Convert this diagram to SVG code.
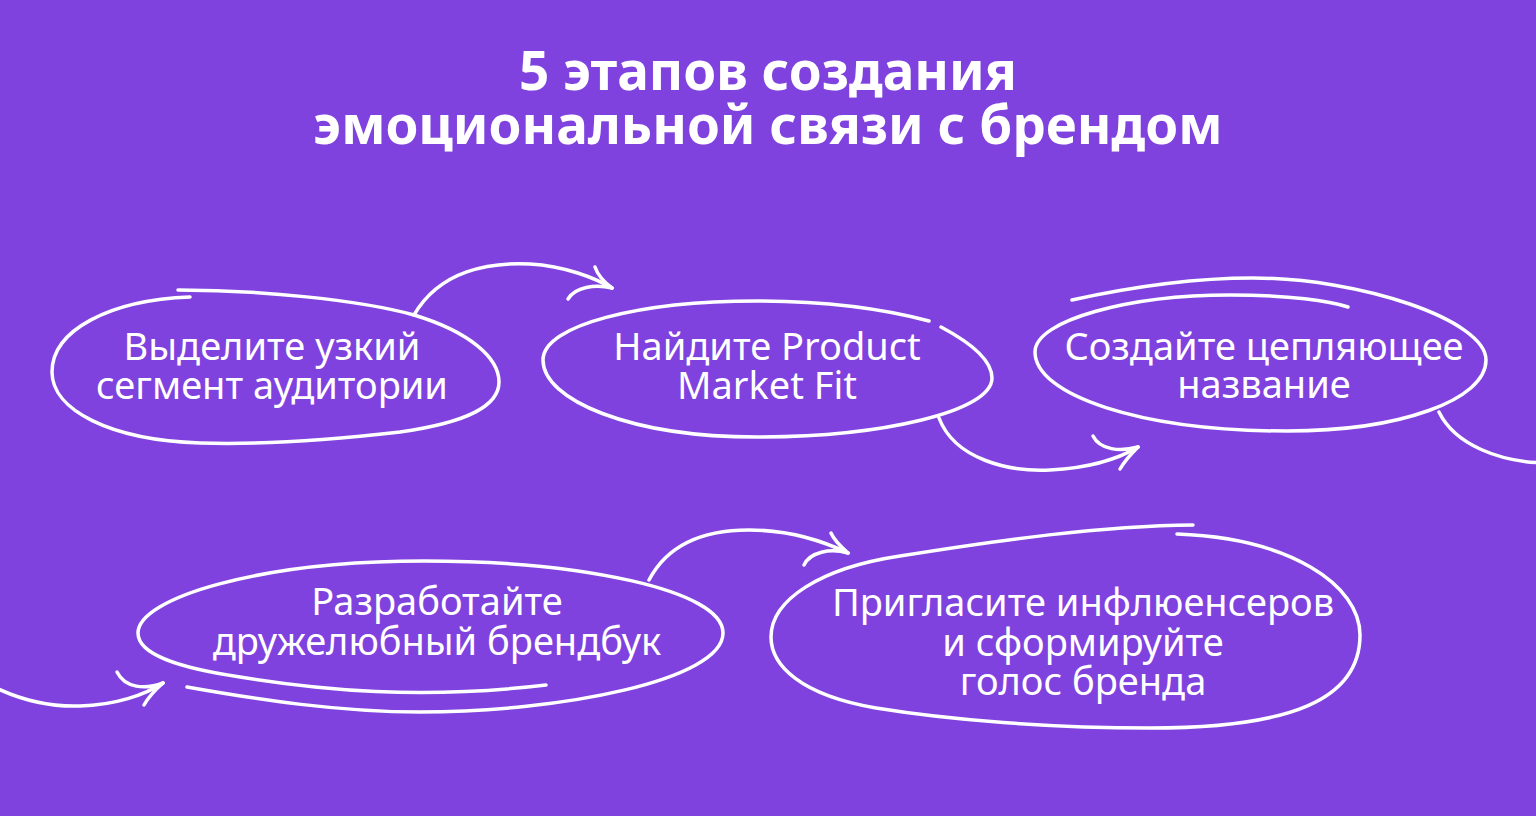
<svg xmlns="http://www.w3.org/2000/svg" width="1536" height="816" viewBox="0 0 1536 816">
  <style>
    .bg { fill: #7F42DF; }
    .title { font-family: "Noto Sans", "Liberation Sans", sans-serif; font-weight: 700; font-size: 53px; fill: #FFFFFF; text-anchor: middle; }
    .label { font-family: "Noto Sans", "Liberation Sans", sans-serif; font-weight: 400; font-size: 38px; fill: #FFFFFF; text-anchor: middle; }
    .loop { fill: none; stroke: #FFFFFF; stroke-width: 3.5; stroke-linecap: round; stroke-linejoin: round; }
    .conn { fill: none; stroke: #FFFFFF; stroke-width: 3.5; stroke-linecap: round; stroke-linejoin: round; }
  </style>
  <rect class="bg" x="0" y="0" width="1536" height="816"/>

  <g id="title">
    <text class="title"><tspan x="768" y="90">5 этапов создания</tspan><tspan x="768" y="144">эмоциональной связи с брендом</tspan></text>
  </g>

  <g id="node1">
    <path class="loop" d="M178,290 C260,290 360,300 414,315 C470,332 499,358 499,382 C499,405 470,422 400,432 C330,440 260,445 200,443 C110,440 52,410 52,372 C52,330 110,300 190,297"/>
    <text class="label"><tspan x="272" y="360">Выделите узкий</tspan><tspan x="272" y="399">сегмент аудитории</tspan></text>
  </g>

  <g id="node2">
    <path class="loop" d="M941,327 C975,345 992,362 992,378 C992,412 880,437 757,437 C630,437 543,400 543,360 C543,325 640,301 757,301 C820,301 880,308 929,321"/>
    <text class="label"><tspan x="767" y="360">Найдите Product</tspan><tspan x="767" y="399">Market Fit</tspan></text>
  </g>

  <g id="node3">
    <path class="loop" d="M1072,300 C1140,285 1200,278 1253,278 C1360,278 1486,320 1486,360 C1486,400 1400,431 1287,431 C1140,431 1035,395 1035,352 C1035,320 1130,295 1230,295 C1290,295 1330,301 1348,307"/>
    <text class="label"><tspan x="1264" y="360">Создайте цепляющее</tspan><tspan x="1264" y="398">название</tspan></text>
  </g>

  <g id="node4">
    <path class="loop" d="M187,687 C260,700 340,712 420,712 C560,712 723,680 723,633 C723,590 580,561 424,561 C260,561 138,598 138,633 C138,655 180,668 240,677 C320,690 420,700 546,685"/>
    <text class="label"><tspan x="437" y="615">Разработайте</tspan><tspan x="437" y="655">дружелюбный брендбук</tspan></text>
  </g>

  <g id="node5">
    <path class="loop" d="M1177,534 C1290,538 1360,585 1360,635 C1360,700 1290,728 1150,728 C1050,728 950,720 876,708 C800,695 771,665 771,637 C771,600 820,568 900,556 C1000,540 1100,526 1193,525"/>
    <text class="label"><tspan x="1083" y="616">Пригласите инфлюенсеров</tspan><tspan x="1083" y="656">и сформируйте</tspan><tspan x="1083" y="695">голос бренда</tspan></text>
  </g>

  <g id="connectors">
    <path class="conn" d="M414,315 C440,270 490,262 530,264 C565,266 595,278 612,288"/>
    <path class="conn" d="M612,288 C595,284 575,287 568,299"/>
    <path class="conn" d="M612,288 C604,282 598,276 595,267"/>

    <path class="conn" d="M939,418 C955,460 1010,472 1050,470 C1090,468 1120,458 1138,447"/>
    <path class="conn" d="M1138,447 C1120,452 1100,450 1093,436"/>
    <path class="conn" d="M1138,447 C1130,455 1124,462 1120,469"/>

    <path class="conn" d="M1439,412 C1455,445 1500,462 1545,463"/>
    <path class="conn" d="M-8,686 C20,700 50,707 80,706 C115,705 145,695 163,683"/>
    <path class="conn" d="M163,683 C145,690 125,688 117,672"/>
    <path class="conn" d="M163,683 C155,690 148,698 144,705"/>

    <path class="conn" d="M649,580 C670,540 710,530 749,530 C790,530 825,542 848,553"/>
    <path class="conn" d="M848,553 C830,548 810,552 804,565"/>
    <path class="conn" d="M848,553 C840,546 834,540 831,533"/>
  </g>
</svg>
